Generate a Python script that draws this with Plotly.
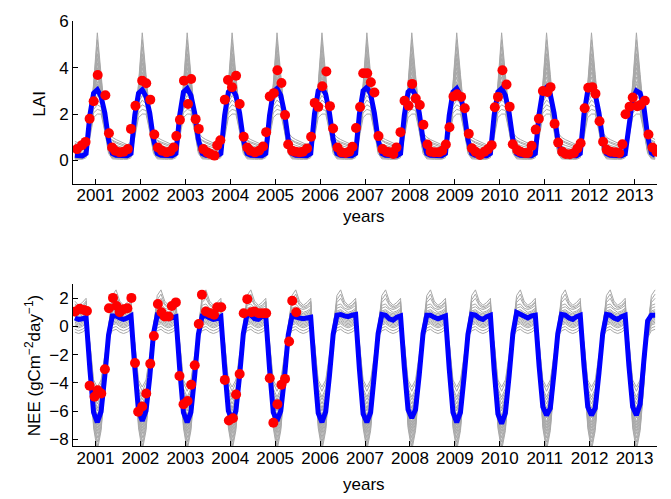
import plotly.graph_objects as go

# ---------------- data ----------------
years = list(range(2001, 2014))
tick_labels = [str(y) for y in years]

# monthly mean LAI (blue), one row per year, Jan..Dec
lai_mean = [
    [0.22, 0.20, 0.20, 0.30, 1.95, 2.90, 3.05, 2.75, 2.05, 0.90, 0.30, 0.22],
    [0.22, 0.20, 0.20, 0.30, 1.95, 2.90, 3.05, 2.75, 2.05, 0.90, 0.30, 0.22],
    [0.22, 0.20, 0.20, 0.30, 1.95, 2.95, 3.10, 2.80, 2.05, 0.90, 0.30, 0.22],
    [0.22, 0.20, 0.20, 0.30, 1.95, 2.95, 3.10, 2.80, 2.05, 0.90, 0.30, 0.22],
    [0.22, 0.20, 0.20, 0.30, 1.95, 2.95, 3.10, 2.80, 2.05, 0.90, 0.30, 0.22],
    [0.22, 0.20, 0.20, 0.30, 2.00, 3.00, 3.15, 2.85, 2.05, 0.90, 0.30, 0.22],
    [0.22, 0.20, 0.20, 0.30, 2.00, 3.00, 3.15, 2.85, 2.05, 0.90, 0.30, 0.22],
    [0.22, 0.20, 0.20, 0.30, 1.95, 2.95, 3.10, 2.80, 2.05, 0.90, 0.30, 0.22],
    [0.22, 0.20, 0.20, 0.30, 1.95, 2.95, 3.10, 2.80, 2.05, 0.90, 0.30, 0.22],
    [0.22, 0.20, 0.20, 0.30, 1.95, 2.95, 3.10, 2.80, 2.05, 0.90, 0.30, 0.22],
    [0.22, 0.20, 0.20, 0.30, 2.00, 3.00, 3.15, 2.85, 2.05, 0.90, 0.30, 0.22],
    [0.22, 0.20, 0.20, 0.30, 2.00, 3.00, 3.15, 2.85, 2.05, 0.90, 0.30, 0.22],
    [0.22, 0.20, 0.20, 0.28, 1.40, 2.65, 3.00, 2.90, 2.30, 1.05, 0.32, 0.22],
]

# ensemble members (gray), monthly climatology Jan..Dec
lai_members = [
    [0.82, 0.74, 0.68, 0.80, 1.70, 3.30, 5.50, 3.70, 2.00, 1.20, 1.00, 0.90],
    [0.68, 0.62, 0.58, 0.70, 1.65, 3.20, 5.20, 3.55, 1.90, 1.05, 0.85, 0.75],
    [0.50, 0.46, 0.42, 0.55, 1.60, 3.10, 4.90, 3.40, 1.80, 0.85, 0.62, 0.55],
    [0.32, 0.29, 0.27, 0.40, 1.55, 3.00, 4.60, 3.30, 1.70, 0.65, 0.40, 0.35],
    [0.18, 0.17, 0.16, 0.30, 1.50, 2.95, 4.40, 3.20, 1.65, 0.50, 0.24, 0.20],
    [0.60, 0.55, 0.50, 0.60, 1.55, 2.95, 4.20, 3.15, 1.70, 0.90, 0.72, 0.65],
    [0.14, 0.13, 0.12, 0.26, 1.45, 2.90, 4.00, 3.05, 1.60, 0.45, 0.18, 0.15],
    [0.42, 0.38, 0.35, 0.48, 1.50, 2.85, 3.80, 3.00, 1.65, 0.75, 0.52, 0.45],
    [0.10, 0.09, 0.09, 0.22, 1.40, 2.80, 3.60, 2.90, 1.55, 0.40, 0.13, 0.10],
    [0.24, 0.22, 0.20, 0.33, 1.42, 2.75, 3.40, 2.85, 1.55, 0.55, 0.30, 0.25],
    [0.12, 0.11, 0.10, 0.24, 1.38, 2.70, 3.30, 2.80, 1.50, 0.42, 0.15, 0.12],
    [0.74, 0.68, 0.62, 0.72, 1.50, 2.65, 3.15, 2.75, 1.60, 1.05, 0.88, 0.80],
    [0.10, 0.09, 0.09, 0.20, 1.35, 2.60, 3.00, 2.70, 1.50, 0.40, 0.12, 0.10],
    [0.19, 0.18, 0.17, 0.28, 1.30, 2.50, 2.80, 2.60, 1.45, 0.48, 0.23, 0.20],
    [0.33, 0.31, 0.29, 0.38, 1.25, 2.35, 2.60, 2.45, 1.40, 0.62, 0.40, 0.35],
    [0.10, 0.09, 0.09, 0.18, 1.20, 2.20, 2.40, 2.30, 1.35, 0.38, 0.12, 0.10],
    [0.14, 0.13, 0.12, 0.22, 1.15, 2.05, 2.20, 2.15, 1.30, 0.42, 0.17, 0.15],
    [0.05, 0.05, 0.05, 0.12, 1.00, 1.85, 2.00, 2.00, 1.25, 0.30, 0.07, 0.05],
]

# observed LAI (red dots)
lai_obs_t = [
    2001.09, 2001.20, 2001.28, 2001.37, 2001.46, 2001.55, 2001.72, 2001.80, 2001.87, 2001.94, 2002.04, 2002.13, 2002.22,
    2002.29, 2002.39, 2002.54, 2002.63, 2002.72, 2002.81, 2002.89, 2002.98, 2003.08, 2003.17, 2003.24,
    2003.30, 2003.38, 2003.47, 2003.56, 2003.63, 2003.73, 2003.80, 2003.90, 2003.99, 2004.06, 2004.15,
    2004.21, 2004.28, 2004.38, 2004.45, 2004.54, 2004.63, 2004.71, 2004.80, 2004.88, 2004.95, 2005.05, 2005.14, 2005.23,
    2005.30, 2005.38, 2005.47, 2005.55, 2005.64, 2005.72, 2005.79, 2005.88, 2005.95, 2006.04, 2006.12, 2006.21,
    2006.30, 2006.38, 2006.46, 2006.55, 2006.64, 2006.72, 2006.79, 2006.89, 2006.98, 2007.07, 2007.15, 2007.22,
    2007.30, 2007.39, 2007.46, 2007.55, 2007.63, 2007.71, 2007.80, 2007.89, 2007.98, 2008.05, 2008.13, 2008.20,
    2008.29, 2008.38, 2008.47, 2008.55, 2008.63, 2008.72, 2008.80, 2008.89, 2008.96, 2009.05, 2009.15, 2009.22, 2009.30,
    2009.38, 2009.47, 2009.55, 2009.64, 2009.72, 2009.81, 2009.88, 2009.96, 2010.06, 2010.16, 2010.24, 2010.32,
    2010.39, 2010.46, 2010.56, 2010.65, 2010.72, 2010.79, 2010.89, 2010.96, 2011.06, 2011.13, 2011.21,
    2011.30, 2011.37, 2011.46, 2011.56, 2011.63, 2011.72, 2011.80, 2011.89, 2011.97, 2012.06, 2012.15, 2012.23, 2012.30,
    2012.39, 2012.47, 2012.56, 2012.63, 2012.72, 2012.80, 2012.88, 2012.97, 2013.07, 2013.16, 2013.23,
    2013.30, 2013.39, 2013.46, 2013.56, 2013.63, 2013.73, 2013.81, 2013.90, 2013.99,
]
lai_obs_v = [
    0.49, 0.66, 0.80, 1.80, 2.55, 3.68, 2.81, 1.17, 0.56, 0.42, 0.35, 0.38, 0.49,
    1.36, 2.36, 3.44, 3.33, 2.62, 1.12, 0.56, 0.42, 0.35, 0.40, 0.56,
    1.05, 1.75, 3.44, 2.43, 3.51, 1.78, 1.36, 0.49, 0.35, 0.28, 0.21,
    0.65, 0.87, 2.62, 3.47, 3.16, 3.65, 2.43, 1.02, 0.56, 0.42, 0.35, 0.42, 0.60,
    1.22, 2.76, 2.90, 3.89, 3.34, 1.96, 0.69, 0.42, 0.38, 0.35, 0.38, 0.52,
    1.02, 2.48, 2.31, 3.20, 3.83, 2.34, 1.38, 0.56, 0.35, 0.32, 0.38, 0.59,
    1.40, 2.30, 3.76, 3.76, 3.37, 2.93, 1.05, 0.49, 0.38, 0.35, 0.28, 0.56,
    1.22, 2.57, 2.36, 3.30, 2.67, 2.39, 1.54, 0.69, 0.38, 0.35, 0.35, 0.42, 0.69,
    1.43, 2.76, 2.85, 2.74, 2.25, 1.15, 0.53, 0.38, 0.24, 0.38, 0.49, 0.66,
    2.29, 2.74, 3.89, 3.27, 2.32, 0.70, 0.45, 0.38, 0.32, 0.32, 0.63,
    1.33, 1.80, 2.99, 2.95, 3.16, 1.58, 0.77, 0.38, 0.28, 0.27, 0.32, 0.52, 0.74,
    2.25, 3.13, 3.16, 2.88, 1.69, 0.81, 0.46, 0.38, 0.35, 0.32, 0.70,
    1.99, 2.32, 2.71, 2.34, 2.39, 2.57, 1.12, 0.56, 0.38,
]

# monthly mean NEE (blue), one row per year, Jan..Dec
nee_mean = [
    [0.60, 0.50, 0.55, 0.65, -3.00, -6.10, -6.80, -6.05, -3.50, -0.60, 0.75, 0.75],
    [0.60, 0.50, 0.60, 0.75, -2.90, -6.00, -6.70, -6.00, -3.60, -0.50, 0.80, 0.75],
    [0.65, 0.55, 0.60, 0.70, -3.00, -6.10, -6.80, -6.10, -3.50, -0.55, 0.75, 0.75],
    [0.60, 0.50, 0.55, 0.70, -2.90, -6.00, -6.65, -6.00, -3.50, -0.50, 0.85, 0.80],
    [0.55, 0.50, 0.70, 0.75, -3.00, -6.10, -6.70, -6.00, -3.60, -0.60, 0.75, 0.65],
    [0.60, 0.55, 0.60, 0.65, -3.00, -6.15, -6.80, -6.05, -3.50, -0.55, 0.80, 0.85],
    [0.75, 0.70, 0.80, 0.85, -3.00, -6.20, -6.80, -6.10, -3.40, -0.50, 0.85, 0.80],
    [0.55, 0.45, 0.65, 0.75, -2.90, -5.90, -6.50, -5.90, -3.40, -0.50, 0.80, 0.80],
    [0.65, 0.55, 0.65, 0.75, -3.00, -6.10, -6.80, -6.10, -3.50, -0.55, 0.85, 0.80],
    [0.60, 0.50, 0.70, 0.80, -3.10, -6.20, -6.90, -6.15, -3.50, -0.50, 1.00, 0.85],
    [0.65, 0.60, 0.75, 0.80, -2.80, -5.70, -6.30, -5.80, -3.30, -0.50, 0.85, 0.80],
    [0.60, 0.50, 0.70, 0.80, -2.80, -5.70, -6.30, -5.80, -3.30, -0.50, 0.85, 0.80],
    [0.60, 0.50, 0.70, 0.80, -2.80, -5.70, -6.30, -5.50, -2.40, 0.40, 0.80, 0.80],
]

nee_members = [
    [1.80, 1.50, 1.70, 2.00, -2.50, -7.20, -8.80, -7.40, -4.20, -0.20, 2.20, 2.60],
    [1.60, 1.40, 1.50, 1.80, -2.80, -7.00, -8.50, -7.20, -4.00, 0.00, 1.90, 2.30],
    [1.50, 1.30, 1.40, 1.70, -3.00, -6.80, -8.20, -7.00, -3.90, 0.10, 1.70, 2.00],
    [1.30, 1.20, 1.30, 1.50, -2.60, -6.60, -7.90, -6.80, -3.80, 0.00, 1.50, 1.60],
    [1.20, 1.00, 1.10, 1.30, -2.70, -6.50, -7.60, -6.60, -3.70, -0.10, 1.30, 1.40],
    [1.00, 0.90, 1.00, 1.20, -2.40, -6.30, -7.40, -6.40, -3.60, -0.10, 1.10, 1.20],
    [0.90, 0.80, 0.90, 1.10, -2.50, -6.20, -7.20, -6.20, -3.40, -0.20, 1.00, 1.10],
    [0.80, 0.70, 0.80, 1.00, -2.30, -6.00, -7.00, -6.00, -3.30, -0.20, 0.90, 1.00],
    [0.70, 0.60, 0.70, 0.90, -2.10, -5.80, -6.80, -5.80, -3.20, -0.30, 0.80, 0.90],
    [0.60, 0.50, 0.60, 0.80, -2.00, -5.60, -6.50, -5.60, -3.00, -0.30, 0.70, 0.80],
    [0.50, 0.40, 0.50, 0.70, -1.80, -5.40, -6.30, -5.40, -2.90, -0.40, 0.60, 0.70],
    [0.40, 0.30, 0.40, 0.60, -1.70, -5.20, -6.00, -5.20, -2.80, -0.40, 0.50, 0.60],
    [0.30, 0.20, 0.30, 0.50, -1.60, -5.00, -5.80, -5.00, -2.70, -0.50, 0.40, 0.50],
    [0.20, 0.10, 0.20, 0.40, -1.50, -4.80, -5.50, -4.80, -2.60, -0.50, 0.30, 0.40],
    [0.10, 0.00, 0.10, 0.30, -1.40, -4.60, -5.20, -4.60, -2.50, -0.60, 0.20, 0.30],
    [0.00, -0.10, 0.00, 0.20, -1.30, -4.40, -5.00, -4.40, -2.40, -0.60, 0.10, 0.20],
    [-0.20, -0.30, -0.20, 0.00, -1.20, -4.00, -4.60, -4.00, -2.20, -0.70, -0.10, 0.00],
    [-0.40, -0.50, -0.40, -0.20, -1.10, -3.80, -4.30, -3.80, -2.00, -0.80, -0.30, -0.20],
]

nee_obs_t = [
    2001.05, 2001.15, 2001.24, 2001.31, 2001.37, 2001.48, 2001.55, 2001.63, 2001.71, 2001.80, 2001.89, 2001.97,
    2002.04, 2002.13, 2002.21, 2002.30, 2002.38, 2002.45, 2002.54, 2002.63, 2002.72, 2002.80, 2002.89, 2002.97,
    2003.04, 2003.13, 2003.20, 2003.29, 2003.37, 2003.46, 2003.55, 2003.63, 2003.71, 2003.80, 2003.87, 2003.96,
    2004.05, 2004.14, 2004.21, 2004.30, 2004.38, 2004.47, 2004.56, 2004.63, 2004.71, 2004.80, 2004.88, 2004.97,
    2005.04, 2005.14, 2005.23, 2005.30, 2005.38, 2005.46, 2005.55, 2005.64, 2005.72, 2005.81, 2005.88, 2005.97,
]
nee_obs_v = [
    1.06, 1.25, 1.17, 1.10, -4.20, -4.99, -4.53, -4.76, -3.03, 1.29, 2.03, 1.45,
    1.01, 1.22, 1.29, 2.03, -2.59, -6.05, -5.68, -4.76, -2.64, -0.67, 1.59, 1.01,
    0.71, 0.71, 1.45, 1.71, -3.51, -5.52, -5.29, -4.14, -2.75, 0.18, 2.26, 1.06,
    0.94, 0.83, 1.36, 1.36, -3.79, -6.68, -6.52, -4.83, -3.37, 0.94, 1.94, 1.01,
    1.06, 0.94, 0.94, 0.94, -3.67, -6.84, -5.52, -4.14, -3.72, -1.07, 1.82, 1.01,
]

# ---------------- figure ----------------
t_month = [y + (m + 0.5) / 12.0 for y in years for m in range(12)]

def flat(rows):
    return [v for r in rows for v in r]

def tile(row):
    return [v for _ in years for v in row]

GRAY = "rgb(168,168,168)"
FONT = "Liberation Sans, Arial, Helvetica, sans-serif"
FS = 17

fig = go.Figure()

for mem in lai_members:
    fig.add_trace(go.Scatter(x=t_month, y=tile(mem), mode="lines",
                             line=dict(color=GRAY, width=1), xaxis="x", yaxis="y",
                             hoverinfo="skip", showlegend=False))
fig.add_trace(go.Scatter(x=t_month, y=flat(lai_mean), mode="lines",
                         line=dict(color="rgb(0,0,255)", width=5), xaxis="x", yaxis="y",
                         showlegend=False))
fig.add_trace(go.Scatter(x=lai_obs_t, y=lai_obs_v, mode="markers",
                         marker=dict(color="rgb(255,0,0)", size=10), xaxis="x", yaxis="y",
                         showlegend=False))

for mem in nee_members:
    fig.add_trace(go.Scatter(x=t_month, y=tile(mem), mode="lines",
                             line=dict(color=GRAY, width=1), xaxis="x2", yaxis="y2",
                             hoverinfo="skip", showlegend=False))
fig.add_trace(go.Scatter(x=t_month, y=flat(nee_mean), mode="lines",
                         line=dict(color="rgb(0,0,255)", width=5), xaxis="x2", yaxis="y2",
                         showlegend=False))
fig.add_trace(go.Scatter(x=nee_obs_t, y=nee_obs_v, mode="markers",
                         marker=dict(color="rgb(255,0,0)", size=10), xaxis="x2", yaxis="y2",
                         showlegend=False))

W, H = 671, 499
xdom = [73 / W, 657 / W]
top_dom = [1 - 179 / H, 1 - 12.5 / H]
bot_dom = [1 - 448 / H, 1 - 282 / H]

xticks = [y + 0.5 for y in years]
common_x = dict(range=[2001, 2014], domain=xdom, tickmode="array", tickvals=xticks,
                ticktext=tick_labels, ticks="inside", ticklen=5, tickcolor="black",
                showline=True, linecolor="black", linewidth=1, showgrid=False,
                zeroline=False, tickfont=dict(family=FONT, size=FS, color="black"),
                mirror=False, ticklabelstandoff=-4)
common_y = dict(ticks="inside", ticklen=5, tickcolor="black", showline=True,
                linecolor="black", linewidth=1, showgrid=False, zeroline=False,
                tickfont=dict(family=FONT, size=FS, color="black"), mirror=False)

def ann(text, x, y, angle=0):
    return dict(text=text, x=x / W, y=1 - y / H, xref="paper", yref="paper",
                xanchor="center", yanchor="middle", textangle=angle, showarrow=False,
                font=dict(family=FONT, size=FS, color="black"))

fig.update_layout(
    width=W, height=H,
    margin=dict(l=0, r=0, t=0, b=0),
    paper_bgcolor="white", plot_bgcolor="white",
    xaxis=dict(**common_x, anchor="y"),
    yaxis=dict(**common_y, domain=top_dom, range=[-1, 6], tickvals=[0, 2, 4, 6], anchor="x"),
    xaxis2=dict(**common_x, anchor="y2"),
    yaxis2=dict(**common_y, domain=bot_dom, range=[-8.5, 3], tickvals=[-8, -6, -4, -2, 0, 2], anchor="x2"),
    showlegend=False,
    annotations=[
        ann("years", 364, 213),
        ann("years", 364, 487),
        ann("LAI", 40, 97, -90),
        ann("NEE (gCm<sup>\u22122</sup>day<sup>\u22121</sup>)", 33, 366, -90),
    ],
)

fig.write_html("out.html")
